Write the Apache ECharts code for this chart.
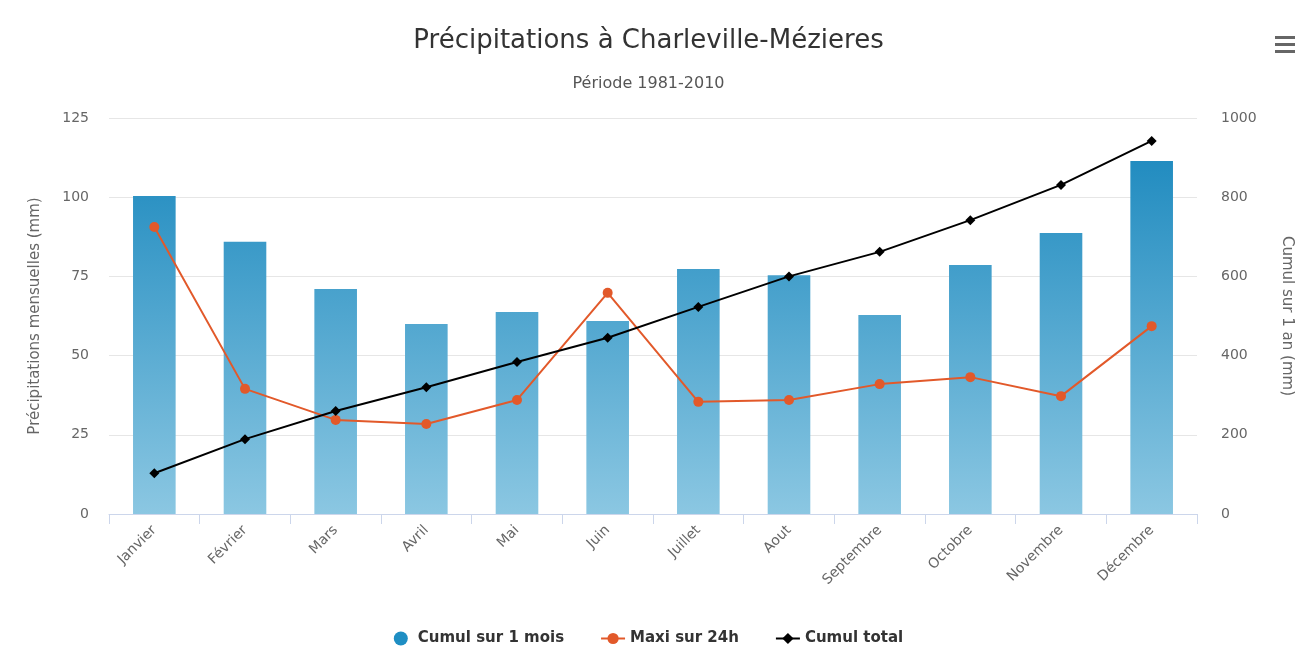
<!DOCTYPE html>
<html><head><meta charset="utf-8">
<script src="https://cdn.jsdelivr.net/npm/echarts@6/dist/echarts.min.js"></script>
<style>html,body{margin:0;padding:0;background:#fff}#c{width:1297px;height:648px}</style>
</head><body><div id="c"></div>
<script>
const months = ['Janvier','Février','Mars','Avril','Mai','Juin','Juillet','Aout','Septembre','Octobre','Novembre','Décembre'];
const cumulMois = [100.4, 85.9, 71.0, 60.0, 63.8, 60.9, 77.3, 75.4, 62.8, 78.6, 88.7, 111.4];
const maxi24h = [90.6, 39.5, 29.7, 28.4, 36.0, 69.8, 35.4, 36.0, 41.0, 43.2, 37.2, 59.3];
const cumulTotal = [103, 189, 260, 320, 384, 445, 523, 600, 662, 742, 831, 942];
const leftTicks = [0, 25, 50, 75, 100, 125];
const rightTicks = [0, 200, 400, 600, 800, 1000];

const font = '"DejaVu Sans", sans-serif';
const chart = echarts.init(document.getElementById('c'), null, {renderer: 'canvas'});
chart.setOption({
  animation: false,
  backgroundColor: '#fff',
  title: {
    text: 'Précipitations à Charleville-Mézieres',
    subtext: 'Période 1981-2010',
    left: 'center', top: 23, itemGap: 22,
    textStyle: {fontFamily: font, fontSize: 26, fontWeight: 'normal', color: '#333'},
    subtextStyle: {fontFamily: font, fontSize: 16, color: '#555'}
  },
  legend: {
    bottom: -3, left: 'center', itemGap: 36, itemWidth: 24, itemHeight: 14,
    textStyle: {fontFamily: font, fontSize: 15, fontWeight: 'bold', color: '#333'},
    data: [
      {name: 'Cumul sur 1 mois', icon: 'circle', itemStyle: {color: '#1e8ec3'}},
      {name: 'Maxi sur 24h'},
      {name: 'Cumul total'}
    ]
  },
  grid: {left: 109, right: 100, top: 118, bottom: 134, containLabel: false, outerBoundsMode: 'none'},
  xAxis: {
    type: 'category', data: months,
    axisLine: {lineStyle: {color: '#ccd6eb'}},
    axisTick: {show: true, length: 10, lineStyle: {color: '#ccd6eb'}},
    axisLabel: {rotate: 45, fontFamily: font, fontSize: 14, color: '#666', margin: 14}
  },
  yAxis: [
    {
      type: 'value', min: 0, max: 125, interval: 25,
      name: 'Précipitations mensuelles (mm)', nameLocation: 'middle', nameGap: 66, nameRotate: 90,
      nameTextStyle: {fontFamily: font, fontSize: 15, color: '#666'},
      axisLabel: {fontFamily: font, fontSize: 14, color: '#666', margin: 20,
        formatter: v => leftTicks.includes(v) ? String(v) : ''},
      splitLine: {lineStyle: {color: '#e6e6e6'}},
      axisLine: {show: false}, axisTick: {show: false}
    },
    {
      type: 'value', min: 0, max: 1000, interval: 200,
      name: 'Cumul sur 1 an (mm)', nameLocation: 'middle', nameGap: 82, nameRotate: -90,
      nameTextStyle: {fontFamily: font, fontSize: 15, color: '#666'},
      axisLabel: {fontFamily: font, fontSize: 14, color: '#666', margin: 24,
        formatter: v => rightTicks.includes(v) ? String(v) : ''},
      splitLine: {show: false},
      axisLine: {show: false}, axisTick: {show: false}
    }
  ],
  series: [
    {
      name: 'Cumul sur 1 mois', type: 'bar', yAxisIndex: 0, data: cumulMois, barWidth: '47%',
      itemStyle: {color: new echarts.graphic.LinearGradient(0, 118, 0, 514, [
        {offset: 0, color: '#1585bc'}, {offset: 1, color: '#8bc7e2'}], true)}
    },
    {
      name: 'Maxi sur 24h', type: 'line', yAxisIndex: 0, data: maxi24h,
      symbol: 'circle', symbolSize: 10,
      lineStyle: {color: '#e2592a', width: 2}, itemStyle: {color: '#e2592a'}
    },
    {
      name: 'Cumul total', type: 'line', yAxisIndex: 1, data: cumulTotal,
      symbol: 'diamond', symbolSize: 10,
      lineStyle: {color: '#000', width: 2}, itemStyle: {color: '#000'}
    }
  ],
  graphic: [
    {type: 'rect', left: 1275, top: 36, shape: {width: 20, height: 3}, style: {fill: '#666'}},
    {type: 'rect', left: 1275, top: 43, shape: {width: 20, height: 3}, style: {fill: '#666'}},
    {type: 'rect', left: 1275, top: 50, shape: {width: 20, height: 3}, style: {fill: '#666'}}
  ]
});
</script></body></html>
